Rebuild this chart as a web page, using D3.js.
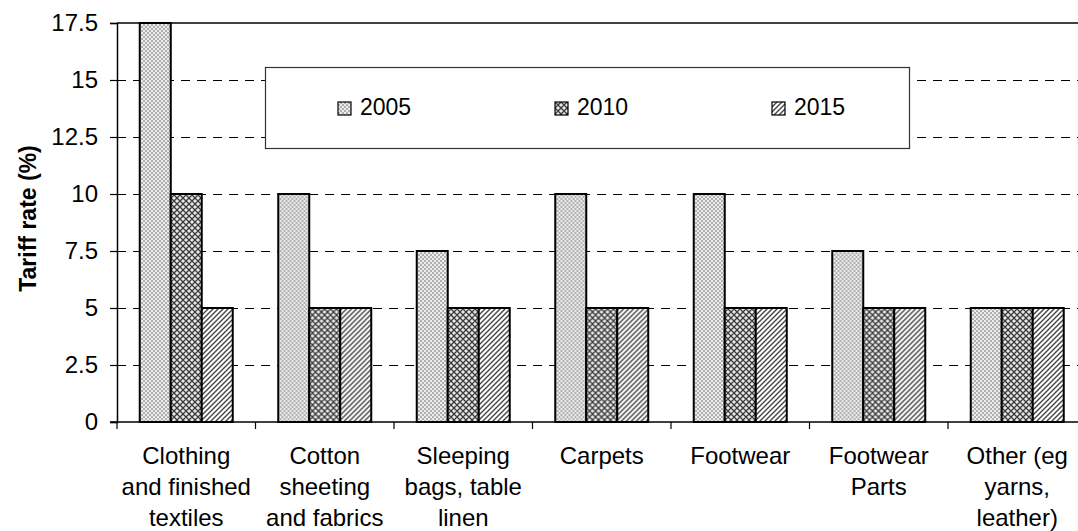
<!DOCTYPE html>
<html>
<head>
<meta charset="utf-8">
<script src="https://cdn.jsdelivr.net/npm/d3@7"></script>
<style>
  body { margin: 0; background: #fff; }
  svg { display: block; font-family: "Liberation Sans", Arial, sans-serif; }
</style>
</head>
<body>
<div id="chart"></div>
<script>
// data
const categories = [
  "Clothing and finished textiles",
  "Cotton sheeting and fabrics",
  "Sleeping bags, table linen",
  "Carpets",
  "Footwear",
  "Footwear Parts",
  "Other (eg yarns, leather)"
];
const categoryLines = [
  ["Clothing", "and finished", "textiles"],
  ["Cotton", "sheeting", "and fabrics"],
  ["Sleeping", "bags, table", "linen"],
  ["Carpets"],
  ["Footwear"],
  ["Footwear", "Parts"],
  ["Other (eg", "yarns,", "leather)"]
];
const years = ["2005", "2010", "2015"];
const values2005 = [17.5, 10, 7.5, 10, 10, 7.5, 5];
const values2010 = [10, 5, 5, 5, 5, 5, 5];
const values2015 = [5, 5, 5, 5, 5, 5, 5];
const yTicks = [0, 2.5, 5, 7.5, 10, 12.5, 15, 17.5];
const yTickLabels = ["0", "2.5", "5", "7.5", "10", "12.5", "15", "17.5"];

const series = [values2005, values2010, values2015];
const data = categories.map((c, i) => ({
  cat: c,
  vals: years.map((y, j) => ({year: y, value: series[j][i]}))
}));

// dimensions (plot area runs past the right edge, as in the picture)
const W = 1078, H = 531;
const plot = {left: 117, top: 23, bottom: 422, right: 1086.5};

const svg = d3.select("#chart")
  .append("svg")
    .attr("width", W)
    .attr("height", H);

// fill patterns
const defs = svg.append("defs");

const pDots = defs.append("pattern")
    .attr("id", "p2005")
    .attr("patternUnits", "userSpaceOnUse")
    .attr("width", 4).attr("height", 4);
pDots.append("rect").attr("width", 4).attr("height", 4).attr("fill", "#c6c6c6");
pDots.append("circle").attr("cx", 1).attr("cy", 1).attr("r", 0.9).attr("fill", "#fff");
pDots.append("circle").attr("cx", 3).attr("cy", 3).attr("r", 0.9).attr("fill", "#fff");
pDots.append("circle").attr("cx", 3).attr("cy", 1).attr("r", 0.6).attr("fill", "#666");
pDots.append("circle").attr("cx", 1).attr("cy", 3).attr("r", 0.6).attr("fill", "#666");

const pCross = defs.append("pattern")
    .attr("id", "p2010")
    .attr("patternUnits", "userSpaceOnUse")
    .attr("width", 6).attr("height", 6);
pCross.append("rect").attr("width", 6).attr("height", 6).attr("fill", "#e8e8e8");
pCross.append("path")
    .attr("d", "M0,0L6,6M6,0L0,6M-3,3L3,9M3,-3L9,3M-3,3L3,-3M3,9L9,3")
    .attr("stroke", "#3a3a3a").attr("stroke-width", 1.3);

const pDiag = defs.append("pattern")
    .attr("id", "p2015")
    .attr("patternUnits", "userSpaceOnUse")
    .attr("width", 5).attr("height", 5);
pDiag.append("rect").attr("width", 5).attr("height", 5).attr("fill", "#fff");
pDiag.append("path")
    .attr("d", "M-1,6L6,-1M-1,1L1,-1M4,6L6,4")
    .attr("stroke", "#444").attr("stroke-width", 1.4);

const fills = {"2005": "url(#p2005)", "2010": "url(#p2010)", "2015": "url(#p2015)"};

// scales
const x = d3.scaleBand()
  .domain(categories)
  .range([plot.left, plot.right])
  .padding(0);

const x1 = d3.scaleBand()
  .domain(years)
  .range([0, x.bandwidth()])
  .paddingInner(0)
  .paddingOuter(0.734);

const y = d3.scaleLinear()
  .domain([0, 17.5])
  .range([plot.bottom, plot.top]);

// gridlines
svg.append("g")
  .selectAll("line")
  .data(yTicks.filter(d => d > 0 && d < 17.5))
  .join("line")
    .attr("x1", plot.left).attr("x2", W)
    .attr("y1", d => y(d) + 0.5).attr("y2", d => y(d) + 0.5)
    .attr("stroke", "#000")
    .attr("stroke-width", 1)
    .attr("shape-rendering", "crispEdges")
    .attr("stroke-dasharray", "9,7");

// top border of plot area
svg.append("line")
    .attr("x1", plot.left).attr("x2", W)
    .attr("y1", y(17.5)).attr("y2", y(17.5))
    .attr("stroke", "#000").attr("stroke-width", 1.5);

// legend box (sits over the gridlines)
const legend = svg.append("g");
legend.append("rect")
    .attr("x", 265.5).attr("y", 67.5)
    .attr("width", 644).attr("height", 81)
    .attr("fill", "#fff")
    .attr("stroke", "#333").attr("stroke-width", 1.2);

const legendX = [338, 555, 772];
const item = legend.selectAll("g.item")
  .data(years)
  .join("g")
    .attr("class", "item")
    .attr("transform", (d, i) => `translate(${legendX[i]},102)`);
item.append("rect")
    .attr("width", 13).attr("height", 13)
    .attr("fill", d => fills[d])
    .attr("stroke", "#000").attr("stroke-width", 1.2);
item.append("text")
    .attr("x", 22).attr("y", 13)
    .attr("font-size", "23px")
    .attr("fill", "#000")
    .text(d => d);

// bars
const groups = svg.append("g")
  .selectAll("g")
  .data(data)
  .join("g")
    .attr("transform", d => `translate(${x(d.cat)},0)`);

groups.selectAll("rect")
  .data(d => d.vals)
  .join("rect")
    .attr("x", d => x1(d.year))
    .attr("y", d => y(d.value))
    .attr("width", x1.bandwidth())
    .attr("height", d => y(0) - y(d.value))
    .attr("fill", d => fills[d.year])
    .attr("stroke", "#000")
    .attr("stroke-width", 2);

// Y axis
const yAxis = svg.append("g")
    .attr("transform", `translate(${plot.left},0)`)
    .call(d3.axisLeft(y)
      .tickValues(yTicks)
      .tickFormat((d, i) => yTickLabels[i])
      .tickSize(7)
      .tickPadding(12));
yAxis.select(".domain").attr("stroke", "#000").attr("stroke-width", 1.5);
yAxis.selectAll(".tick line").attr("stroke", "#000").attr("stroke-width", 1.2);
yAxis.selectAll(".tick text")
    .attr("font-size", "24px")
    .attr("font-family", "Liberation Sans, Arial, sans-serif")
    .attr("fill", "#000");

// X axis line and category boundary ticks
svg.append("line")
    .attr("x1", plot.left - 7).attr("x2", W)
    .attr("y1", y(0)).attr("y2", y(0))
    .attr("stroke", "#000").attr("stroke-width", 1.5);

svg.append("g")
  .selectAll("line")
  .data(categories)
  .join("line")
    .attr("x1", d => x(d)).attr("x2", d => x(d))
    .attr("y1", y(0)).attr("y2", y(0) + 7)
    .attr("stroke", "#000").attr("stroke-width", 1.2);

// category labels
const labels = svg.append("g")
  .selectAll("text")
  .data(categories)
  .join("text")
    .attr("text-anchor", "middle")
    .attr("font-size", "24px")
    .attr("fill", "#000")
    .attr("transform", d => `translate(${x(d) + x.bandwidth() / 2},464)`);

labels.selectAll("tspan")
  .data((d, i) => categoryLines[i])
  .join("tspan")
    .attr("x", 0)
    .attr("y", (d, i) => i * 31)
    .text(d => d);

// Y axis title
svg.append("text")
    .attr("transform", `translate(36,${(plot.top + plot.bottom) / 2 - 4}) rotate(-90)`)
    .attr("text-anchor", "middle")
    .attr("font-size", "23px")
    .attr("font-weight", "bold")
    .attr("fill", "#000")
    .text("Tariff rate (%)");
</script>
</body>
</html>
